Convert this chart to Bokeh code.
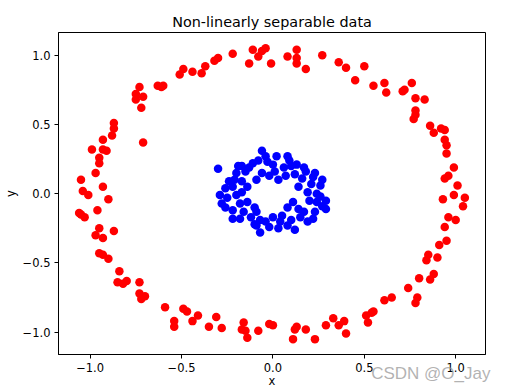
from bokeh.plotting import figure
from bokeh.models import FixedTicker, Range1d, Title
from bokeh.embed import file_html
from bokeh.resources import INLINE

# Outer ring (class 0, red)
red_x = [-1.05, -1.04, -1.01, -0.90, -0.93, -0.97, -0.95, -0.95, -0.99, -0.93,
         -0.91, -0.93, -0.88, -0.87, -0.87, -0.71, -0.72, -0.75, -0.75, -0.73,
         -0.71, -0.63, -0.61, -0.60, -0.51, -0.49, -0.44, -0.39, -0.37, -0.32,
         -0.30, -0.22, -0.11, -0.13, -0.08, -0.06, -0.04, -0.01, 0.08, 0.13,
         0.13, 0.13, 0.18, 0.27, 0.36, 0.40, 0.50, 0.45, 0.55, 0.61,
         0.62, 0.71, 0.72, 0.76, 0.78, 0.83, 0.78, 0.78, 0.77, 0.86,
         0.88, 0.92, 0.94, 0.94, 0.95, 0.95, 0.99, 0.96, 0.94, 1.01,
         0.99, 1.05, 0.93, 1.04, 0.96, 1.00, 0.94, 0.95, 0.91, 0.85,
         0.84, 0.90, 0.88, 0.86, 0.80, 0.74, 0.79, 0.78, 0.65, 0.61,
         0.55, 0.54, 0.51, 0.52, 0.39, 0.36, 0.33, 0.29, 0.40, -0.47,
         -0.44, -0.41, -0.35, -0.31, -0.28, -0.16, -0.17, -0.15, -0.14, -0.08,
         -0.02, 0.00, 0.12, 0.13, 0.11, 0.18, 0.23, -1.06, -1.05, -1.03,
         -0.96, -0.95, -0.97, -0.93, -0.87, -0.95, -0.93, -0.90, -0.84, -0.85,
         -0.82, -0.80, -0.73, -0.73, -0.72, -0.70, -0.59, -0.54, -0.54, -0.49]
red_y = [0.10, 0.02, -0.01, -0.04, 0.05, 0.15, 0.22, 0.26, 0.32, 0.32,
         0.31, 0.39, 0.42, 0.47, 0.51, 0.37, 0.62, 0.68, 0.72, 0.77,
         0.70, 0.78, 0.77, 0.78, 0.86, 0.90, 0.88, 0.87, 0.92, 0.96,
         0.98, 1.01, 1.04, 0.94, 0.99, 1.03, 1.05, 0.94, 0.99, 1.04,
         0.98, 0.94, 0.90, 1.00, 0.95, 0.91, 0.92, 0.82, 0.78, 0.80,
         0.73, 0.74, 0.75, 0.80, 0.69, 0.68, 0.60, 0.57, 0.54, 0.49,
         0.44, 0.47, 0.46, 0.39, 0.35, 0.29, 0.19, 0.13, 0.11, 0.06,
         -0.01, -0.03, -0.04, -0.09, -0.17, -0.19, -0.24, -0.34, -0.37, -0.44,
         -0.48, -0.46, -0.58, -0.62, -0.61, -0.68, -0.75, -0.79, -0.75, -0.77,
         -0.85, -0.86, -0.88, -0.93, -0.92, -0.95, -0.90, -0.95, -1.01, -0.85,
         -0.92, -0.88, -0.96, -0.89, -0.97, -0.93, -0.98, -0.99, -1.04, -0.99,
         -0.94, -0.95, -0.98, -0.96, -1.05, -0.98, -1.05, -0.14, -0.15, -0.17,
         -0.12, -0.25, -0.30, -0.32, -0.27, -0.43, -0.44, -0.47, -0.56, -0.64,
         -0.65, -0.63, -0.64, -0.72, -0.76, -0.74, -0.82, -0.92, -0.96, -0.83]

# Inner ring (class 1, blue)
blue_x = [-0.30, -0.06, 0.08, -0.11, -0.08, -0.03, 0.00, 0.01, 0.06, 0.13,
          -0.13, -0.06, -0.02, 0.03, -0.20, -0.15, -0.21, -0.17, -0.22, -0.14,
          -0.09, 0.07, 0.12, 0.18, 0.23, 0.16, 0.21, 0.26, 0.14, 0.19,
          0.24, 0.29, 0.29, -0.29, -0.28, -0.25, -0.20, -0.17, -0.14, -0.18,
          -0.22, -0.16, -0.22, -0.12, -0.09, -0.07, -0.09, -0.07, -0.04, 0.00,
          0.04, 0.05, 0.03, 0.08, 0.12, 0.08, 0.11, 0.14, 0.15, 0.17,
          0.19, 0.23, 0.24, 0.20, -0.10, -0.18, -0.26, 0.22, -0.02, 0.10,
          -0.24, 0.17, -0.04, 0.09, -0.19, 0.26, 0.27, -0.26, 0.02, -0.10,
          0.22, 0.10, -0.17, 0.27]
blue_y = [0.18, 0.31, 0.27, 0.22, 0.24, 0.23, 0.21, 0.16, 0.19, 0.21,
          0.19, 0.15, 0.13, 0.10, 0.15, 0.16, 0.10, 0.09, 0.05, 0.05,
          0.10, 0.13, 0.14, 0.16, 0.15, 0.11, 0.07, 0.06, 0.05, 0.01,
          0.00, -0.05, -0.11, -0.01, -0.07, -0.03, -0.01, 0.01, -0.06, -0.07,
          -0.12, -0.13, -0.18, -0.17, -0.13, -0.19, -0.23, -0.28, -0.20, -0.17,
          -0.20, -0.16, -0.25, -0.23, -0.26, -0.10, -0.06, -0.11, -0.17, -0.13,
          -0.20, -0.13, -0.06, -0.05, -0.10, -0.18, 0.04, 0.12, -0.24, -0.19,
          0.09, 0.19, 0.27, 0.24, 0.20, -0.02, 0.10, -0.10, 0.27, -0.22,
          -0.18, 0.20, 0.20, -0.09]

tick_values = [-1, -0.5, 0, 0.5, 1]
tick_labels = ["\u22121.0", "\u22120.5", "0.0", "0.5", "1.0"]

FONT = "DejaVu Sans"

p = figure(width=506, height=391, output_backend="svg", toolbar_location=None,
           x_range=Range1d(-1.173, 1.163), y_range=Range1d(-1.161, 1.164),
           title="Non-linearly separable data",
           min_border_left=52, min_border_right=21, min_border_top=32, min_border_bottom=37)

p.title.align = "center"
p.title.text_font = FONT
p.title.text_font_size = "14.4px"
p.title.text_font_style = "normal"
p.title.text_color = "#000000"
p.title.standoff = 6

p.grid.visible = False
p.outline_line_color = "#000000"
p.outline_line_width = 1
p.background_fill_color = "white"
p.border_fill_color = "white"

overrides = {v: s for v, s in zip(tick_values, tick_labels)}
for ax in (p.xaxis[0], p.yaxis[0]):
    ax.ticker = FixedTicker(ticks=tick_values)
    ax.major_label_overrides = overrides
    ax.major_label_text_font = FONT
    ax.major_label_text_font_size = "11.5px"
    ax.major_label_text_color = "#000000"
    ax.axis_label_text_font = FONT
    ax.axis_label_text_font_size = "11.5px"
    ax.axis_label_text_font_style = "normal"
    ax.axis_label_text_color = "#000000"
    ax.major_tick_in = 0
    ax.major_tick_out = 4
    ax.minor_tick_in = 0
    ax.minor_tick_out = 0
    ax.axis_line_color = "#000000"
    ax.major_tick_line_color = "#000000"
    ax.major_label_standoff = 4

p.yaxis.axis_label = "y"
p.yaxis.axis_label_standoff = 2
p.yaxis.major_label_orientation = "horizontal"

p.scatter(red_x, red_y, size=8.5, fill_color="#ff0000", line_color=None)
p.scatter(blue_x, blue_y, size=8.5, fill_color="#0000ff", line_color=None)

# CSDN watermark: zero-height panel right under the x tick labels
wm = Title(text="CSDN @O_Jay", align="right", vertical_align="top",
           text_font="Liberation Sans", text_font_size="17px", text_font_style="normal",
           text_color="#999999", text_alpha=0.75, standoff=-22, offset=-5)
p.add_layout(wm, "below")

# x axis label
xt = Title(text="x", align="center", vertical_align="top",
           text_font=FONT, text_font_size="11.5px", text_font_style="normal",
           text_color="#000000", standoff=-2)
p.add_layout(xt, "below")

open("out.html", "w").write(file_html(p, INLINE))
